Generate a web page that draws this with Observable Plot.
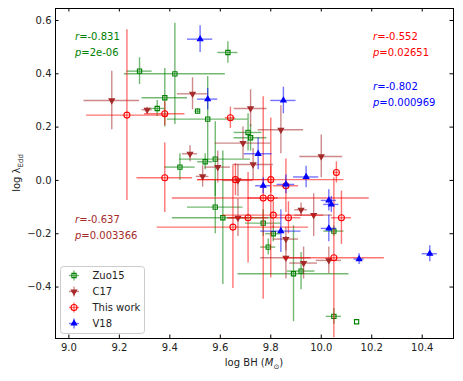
<!DOCTYPE html>
<html><head><meta charset="utf-8">
<script src="https://cdn.jsdelivr.net/npm/d3@7"></script>
<script src="https://cdn.jsdelivr.net/npm/@observablehq/plot@0.6"></script>
<style>body{margin:0;background:#fff} svg{font-family:"DejaVu Sans",sans-serif}</style>
</head><body><div id="chart"></div>
<script>
// ---- data ----
const seriesNames = ["Zuo15", "C17", "This work", "V18"];

const zuoX    = [9.28, 9.42, 9.38, 9.35, 9.51, 9.55, 9.63, 9.71, 9.72, 9.58, 9.54, 9.44, 9.58, 9.61, 9.77, 9.81, 9.79, 9.89, 9.92, 10.05, 10.05, 10.14];
const zuoY    = [0.41, 0.40, 0.31, 0.27, 0.26, 0.23, 0.48, 0.18, 0.16, 0.08, 0.07, 0.05, -0.10, -0.14, -0.16, -0.20, -0.25, -0.35, -0.34, -0.19, -0.51, -0.53];
const zuoXerr = [0.05, 0.20, 0.09, 0.03, 0.01, 0.16, 0.04, 0.055, 0.065, 0.14, 0.03, 0.06, 0.11, 0.20, 0.07, 0.03, 0.03, 0.22, 0.055, 0.04, 0.03, 0.0];
const zuoYerr = [0.05, 0.19, 0.11, 0.03, 0.01, 0.16, 0.04, 0.07, 0.05, 0.14, 0.03, 0.05, 0.10, 0.25, 0.05, 0.03, 0.03, 0.18, 0.07, 0.02, 0.03, 0.0];

const c17X    = [9.17, 9.31, 9.49, 9.72, 9.69, 9.48, 9.59, 9.73, 9.53, 9.67, 9.84, 10.00, 9.67, 9.92, 9.97, 9.86, 9.86, 9.93, 10.03];
const c17Y    = [0.30, 0.265, 0.325, 0.27, 0.14, 0.10, 0.05, 0.06, 0.015, 0.00, 0.19, 0.09, -0.14, -0.11, -0.13, -0.22, -0.29, -0.31, -0.30];
const c17Xerr = [0.11, 0.02, 0.06, 0.065, 0.11, 0.03, 0.05, 0.08, 0.025, 0.06, 0.09, 0.085, 0.04, 0.025, 0.075, 0.05, 0.10, 0.055, 0.05];
const c17Yerr = [0.11, 0.01, 0.06, 0.07, 0.06, 0.03, 0.06, 0.06, 0.04, 0.06, 0.09, 0.08, 0.07, 0.025, 0.08, 0.045, 0.08, 0.06, 0.05];

const thisX    = [9.23, 9.38, 9.64, 9.38, 9.66, 9.80, 9.77, 9.80, 9.86, 9.71, 9.81, 9.87, 9.65, 10.06, 10.08, 10.05];
const thisY    = [0.245, 0.25, 0.235, 0.01, 0.003, 0.003, -0.066, -0.066, -0.02, -0.14, -0.13, -0.14, -0.175, 0.03, -0.14, -0.29];
const thisXerr = [0.16, 0.08, 0.02, 0.11, 0.15, 0.29, 0.06, 0.39, 0.05, 0.08, 0.20, 0.05, 0.30, 0.01, 0.04, 0.20];
const thisYerr = [0.32, 0.045, 0.04, 0.13, 0.06, 0.05, 0.38, 0.30, 0.10, 0.17, 0.05, 0.06, 0.23, 0.04, 0.10, 0.30];

const v18X    = [9.52, 9.55, 9.85, 9.75, 9.77, 9.86, 9.94, 10.03, 10.04, 9.84, 10.03, 10.15, 10.43];
const v18Y    = [0.53, 0.305, 0.30, 0.10, -0.02, -0.015, 0.013, -0.075, -0.09, -0.19, -0.18, -0.295, -0.275];
const v18Xerr = [0.05, 0.04, 0.05, 0.055, 0.03, 0.035, 0.05, 0.03, 0.03, 0.08, 0.03, 0.02, 0.03];
const v18Yerr = [0.05, 0.04, 0.05, 0.06, 0.03, 0.035, 0.04, 0.04, 0.03, 0.08, 0.05, 0.02, 0.03];

const statR = ["-0.831", "-0.637", "-0.552", "-0.802"];
const statP = ["2e-06", "0.003366", "0.02651", "0.000969"];

const xTicks = [9.0, 9.2, 9.4, 9.6, 9.8, 10.0, 10.2, 10.4];
const yTicks = [-0.4, -0.2, 0.0, 0.2, 0.4, 0.6];
const xDomain = [8.947, 10.524];
const yDomain = [-0.593, 0.645];

// ---- build ----
const colors = {"Zuo15": "green", "C17": "brown", "This work": "red", "V18": "blue"};
const triDown = {draw(ctx, size) {
  const y = -Math.sqrt(size / (Math.sqrt(3) * 3));
  ctx.moveTo(0, -y * 2);
  ctx.lineTo(-Math.sqrt(3) * y, y);
  ctx.lineTo(Math.sqrt(3) * y, y);
  ctx.closePath();
}};
const symbolOf = {"Zuo15": "square", "C17": triDown, "This work": "circle", "V18": "triangle"};
const fillOf = {"Zuo15": "none", "C17": "brown", "This work": "none", "V18": "blue"};
const rOf = {"Zuo15": 2.4, "C17": 2.0, "This work": 3.0, "V18": 2.0};

const cols = {
  "Zuo15": [zuoX, zuoY, zuoXerr, zuoYerr],
  "C17": [c17X, c17Y, c17Xerr, c17Yerr],
  "This work": [thisX, thisY, thisXerr, thisYerr],
  "V18": [v18X, v18Y, v18Xerr, v18Yerr]
};
const W = 463, H = 381, mL = 55, mR = 10, mT = 8, mB = 43;
const innerW = W - mL - mR, innerH = H - mT - mB;
const tk = 3.5;

const marks = [];
for (const s of seriesNames) {
  const [X, Y, XE, YE] = cols[s];
  const rows = X.map((x, i) => ({x, y: Y[i], xe: XE[i], ye: YE[i]}));
  const c = colors[s];
  marks.push(Plot.ruleY(rows, {y: "y", x1: d => d.x - d.xe, x2: d => d.x + d.xe, stroke: c, strokeWidth: 1.4, strokeOpacity: 0.55, clip: true}));
  marks.push(Plot.ruleX(rows, {x: "x", y1: d => d.y - d.ye, y2: d => d.y + d.ye, stroke: c, strokeWidth: 1.4, strokeOpacity: 0.55, clip: true}));
  marks.push(Plot.dot(rows, {x: "x", y: "y", symbol: symbolOf[s], r: rOf[s], stroke: c, fill: fillOf[s], strokeWidth: 1.1}));
}
marks.push(Plot.tickX(xTicks, {x: d => d, insetTop: innerH - tk, stroke: "black"}));
marks.push(Plot.tickX(xTicks, {x: d => d, insetBottom: innerH - tk, stroke: "black"}));
marks.push(Plot.tickY(yTicks, {y: d => d, insetRight: innerW - tk, stroke: "black"}));
marks.push(Plot.tickY(yTicks, {y: d => d, insetLeft: innerW - tk, stroke: "black"}));
marks.push(Plot.axisX({ticks: xTicks, tickSize: 0, tickPadding: 5, tickFormat: d3.format(".1f"), label: null, fontSize: 10, fill: "#222"}));
marks.push(Plot.axisY({ticks: yTicks, tickSize: 0, tickPadding: 4, tickFormat: d => d3.format(".1f")(d).replace("-", "\u2212"), label: null, fontSize: 10, fill: "#222"}));
marks.push(Plot.frame({stroke: "black", strokeWidth: 1}));

const plot = Plot.plot({
  width: W, height: H,
  marginLeft: mL, marginRight: mR, marginTop: mT, marginBottom: mB,
  x: {domain: xDomain},
  y: {domain: yDomain},
  style: {fontFamily: "DejaVu Sans", fontSize: "10px", background: "white"},
  marks
});
document.getElementById("chart").append(plot);

// ---- annotations, labels, legend ----
const svg = d3.select(plot);
const g = svg.append("g").attr("font-family", "DejaVu Sans").attr("font-size", 10).attr("text-anchor", "start");

// x label
const xl = g.append("text").attr("x", mL + innerW / 2).attr("y", 366).attr("text-anchor", "middle").attr("fill", "#222");
xl.append("tspan").text("log BH (");
xl.append("tspan").attr("font-style", "italic").text("M");
xl.append("tspan").attr("font-size", 7).attr("dy", 2.5).text("\u2299");
xl.append("tspan").attr("dy", -2.5).text(")");

// y label
const yl = g.append("text").attr("transform", `translate(20,${mT + innerH / 2}) rotate(-90)`).attr("text-anchor", "middle").attr("fill", "#222");
yl.append("tspan").text("log \u03bb");
yl.append("tspan").attr("font-size", 7).attr("dy", 2.5).text("Edd");

// stats
const statPos = [[75, 40], [75, 223], [373, 40], [373, 90]];
seriesNames.forEach((s, i) => {
  const [px, py] = statPos[i];
  const t1 = g.append("text").attr("x", px).attr("y", py).attr("fill", colors[s]);
  t1.append("tspan").attr("font-style", "italic").text("r");
  t1.append("tspan").text("=" + statR[i]);
  const t2 = g.append("text").attr("x", px).attr("y", py + 16).attr("fill", colors[s]);
  t2.append("tspan").attr("font-style", "italic").text("p");
  t2.append("tspan").text("=" + statP[i]);
});

// legend
const lg = g.append("g");
lg.append("rect").attr("x", 60.5).attr("y", 266.5).attr("width", 84).attr("height", 67).attr("rx", 3)
  .attr("fill", "white").attr("fill-opacity", 0.85).attr("stroke", "#ccc");
seriesNames.forEach((s, i) => {
  const cy = 275.5 + i * 16;
  const cx = 74;
  const c = colors[s];
  lg.append("line").attr("x1", cx - 5).attr("x2", cx + 5).attr("y1", cy).attr("y2", cy).attr("stroke", c).attr("stroke-width", 1.4).attr("stroke-opacity", 0.55);
  lg.append("line").attr("x1", cx).attr("x2", cx).attr("y1", cy - 5).attr("y2", cy + 5).attr("stroke", c).attr("stroke-width", 1.4).attr("stroke-opacity", 0.55);
  const sym = typeof symbolOf[s] === "string"
    ? {square: d3.symbolSquare, circle: d3.symbolCircle, triangle: d3.symbolTriangle}[symbolOf[s]]
    : symbolOf[s];
  lg.append("path").attr("transform", `translate(${cx},${cy})`)
    .attr("d", d3.symbol(sym, Math.PI * rOf[s] * rOf[s])())
    .attr("fill", fillOf[s]).attr("stroke", c).attr("stroke-width", 1.1);
  lg.append("text").attr("x", 92.5).attr("y", cy + 3.6).attr("fill", "#222").text(s);
});
</script>
</body></html>
